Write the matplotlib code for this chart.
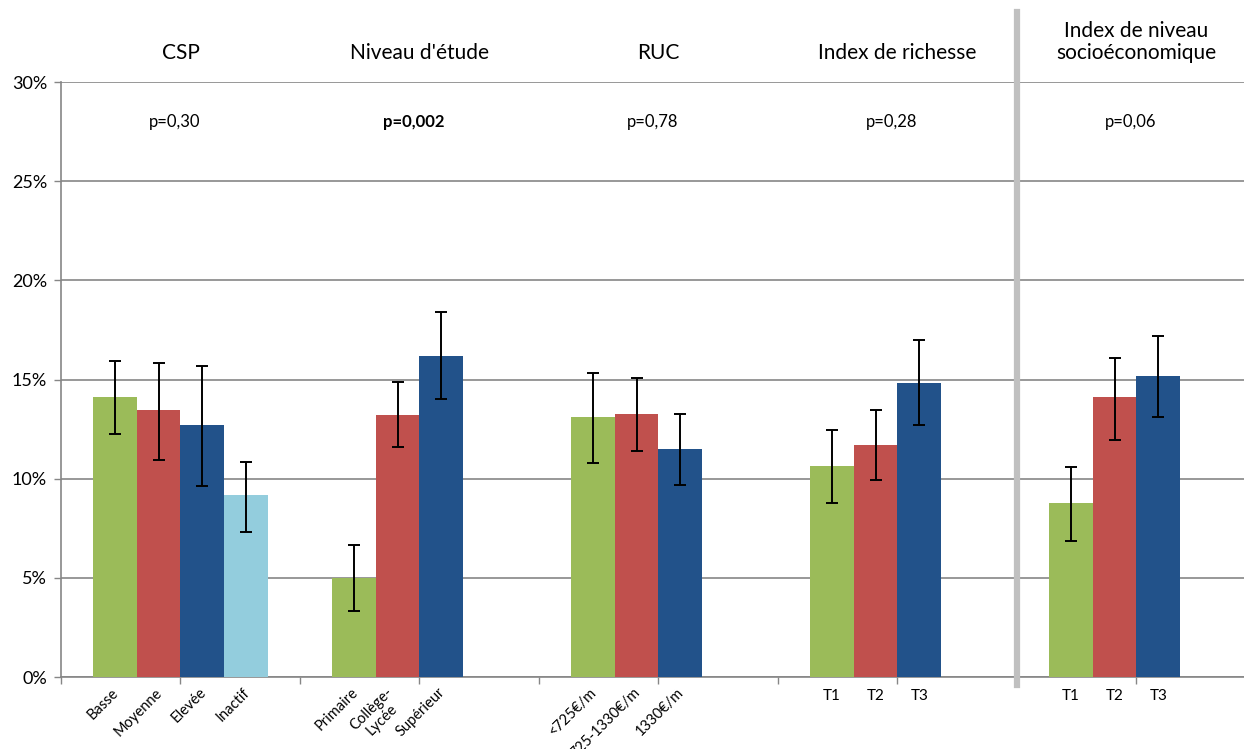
import matplotlib
matplotlib.use("Agg")
import matplotlib.pyplot as plt
import matplotlib.transforms as mtransforms

plt.rcParams['font.family'] = ['Lato', 'DejaVu Sans']

# groupes et valeurs (%)
groupes = ["CSP", "Niveau d'étude", "RUC", "Index de richesse", "Index de niveau\nsocioéconomique"]
p_valeurs = ["p=0,30", "p=0,002", "p=0,78", "p=0,28", "p=0,06"]
p_gras = [False, True, False, False, False]

etiquettes = [
    ["Basse", "Moyenne", "Elevée", "Inactif"],
    ["Primaire", "Collège-\nLycée", "Supérieur"],
    ["<725€/m", "725-1330€/m", "1330€/m"],
    ["T1", "T2", "T3"],
    ["T1", "T2", "T3"],
]
valeurs = [
    [14.1, 13.45, 12.7, 9.18],
    [5.0, 13.2, 16.2],
    [13.1, 13.28, 11.48],
    [10.64, 11.68, 14.83],
    [8.77, 14.1, 15.18],
]
ic_bas = [
    [12.25, 10.94, 9.63, 7.31],
    [3.31, 11.6, 14.0],
    [10.81, 11.38, 9.7],
    [8.77, 9.92, 12.69],
    [6.87, 11.97, 13.13],
]
ic_haut = [
    [15.95, 15.82, 15.68, 10.86],
    [6.64, 14.88, 18.4],
    [15.31, 15.08, 13.26],
    [12.47, 13.48, 16.98],
    [10.59, 16.1, 17.21],
]
rotation = [45, 45, 45, 0, 0]

couleurs = ["#9BBB59", "#C0504D", "#22528A", "#93CDDD"]
gris = "#868686"

fig = plt.figure(figsize=(12.44, 7.49), dpi=100)
ax = fig.add_axes([0.049, 0.0961, 0.951, 0.7944])
trans = mtransforms.blended_transform_factory(ax.transData, ax.transAxes)

largeur = 0.365
for g in range(len(groupes)):
    for j, v in enumerate(valeurs[g]):
        x = 2 * g + 0.27 + largeur * (j + 0.5)
        ax.bar(x, v, width=largeur, color=couleurs[j], linewidth=0, zorder=3)
        ax.errorbar(x, v, yerr=[[v - ic_bas[g][j]], [ic_haut[g][j] - v]],
                    fmt="none", ecolor="black", elinewidth=1.4, capsize=4,
                    capthick=1.4, zorder=4)
        lab = etiquettes[g][j]
        if rotation[g]:
            dx = 0.1 if "\n" in lab else 0.03
            ax.text(x - dx, -0.014, lab, rotation=45,
                    rotation_mode="anchor", ha="right", va="top",
                    multialignment="center", fontsize=10.5,
                    transform=trans, linespacing=1.05)
        else:
            ax.text(x, -0.02, lab, ha="center", va="top",
                    fontsize=11, transform=trans)
    ax.text(2 * g + 1, 1.032, groupes[g], ha="center", va="bottom",
            fontsize=15, transform=trans, linespacing=1.12)
    ax.text(2 * g + 0.95, 28.0, p_valeurs[g], ha="center", va="center",
            fontsize=12, fontweight="bold" if p_gras[g] else "normal")

ax.set_xlim(0, 9.9)
ax.set_ylim(0, 30)
ax.set_yticks(range(0, 31, 5))
ax.set_yticklabels([f"{t}%" for t in range(0, 31, 5)], fontsize=13)
ax.set_xticks(range(0, 10))
ax.set_xticklabels([])
ax.tick_params(axis="both", color=gris, length=5, width=1)
ax.tick_params(axis="y", pad=5)
ax.yaxis.grid(True, color=gris, linewidth=1.2, zorder=0)
ax.set_axisbelow(True)
for s in ["top", "right"]:
    ax.spines[s].set_visible(False)
for s in ["left", "bottom"]:
    ax.spines[s].set_color(gris)
    ax.spines[s].set_linewidth(1.2)

# séparateur vertical
ax.plot([8, 8], [-0.013, 1.118], color="#C0C0C0", linewidth=4.5,
        transform=trans, clip_on=False, zorder=5)

fig.savefig("out.png", dpi=100)
